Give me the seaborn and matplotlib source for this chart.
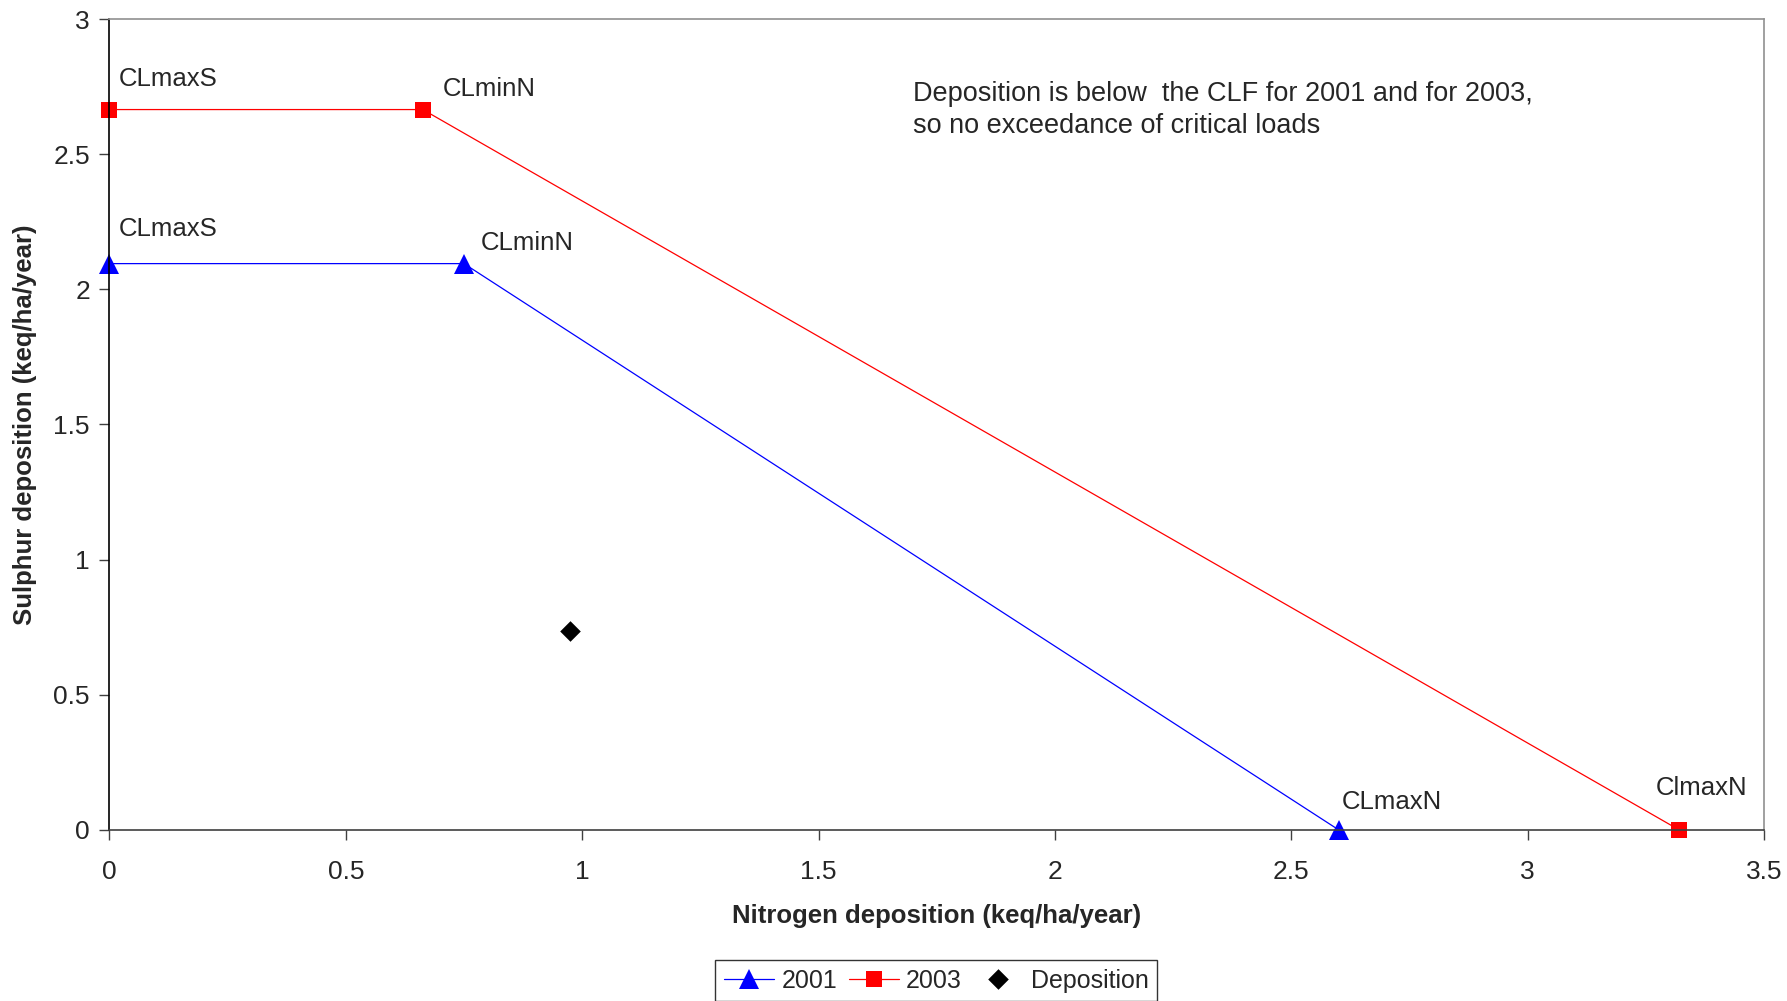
import matplotlib
matplotlib.use("Agg")
import matplotlib.pyplot as plt
import seaborn as sns
import pandas as pd

# critical load function points (N, S)
n_2001 = [0.0, 0.75, 2.60]
s_2001 = [2.095, 2.095, 0.0]
n_2003 = [0.0, 0.663, 3.32]
s_2003 = [2.665, 2.665, 0.0]
dep_n = [0.975]
dep_s = [0.737]

labels_2001 = ["CLmaxS", "CLminN", "CLmaxN"]
labels_2003 = ["CLmaxS", "CLminN", "ClmaxN"]
offsets_2001 = [(7, 25), (12, 15), (2, 20)]
offsets_2003 = [(7, 22), (14, 15), (-17, 30)]

note = "Deposition is below  the CLF for 2001 and for 2003,\nso no exceedance of critical loads"


def main():
    sns.set_style("white")
    plt.rcParams["font.family"] = ["Liberation Sans", "DejaVu Sans"]

    fig = plt.figure(figsize=(17.87, 10.01), dpi=100)
    ax = fig.add_axes([0.0612, 0.171, 0.926, 0.81])

    df1 = pd.DataFrame({"N": n_2001, "S": s_2001})
    df3 = pd.DataFrame({"N": n_2003, "S": s_2003})
    dfd = pd.DataFrame({"N": dep_n, "S": dep_s})

    sns.lineplot(data=df1, x="N", y="S", sort=False, estimator=None, ax=ax,
                 color="blue", lw=0.9, marker="^", markersize=14,
                 markeredgewidth=0, label="2001", clip_on=False)
    sns.lineplot(data=df3, x="N", y="S", sort=False, estimator=None, ax=ax,
                 color="red", lw=0.9, marker="s", markersize=12,
                 markeredgewidth=0, label="2003", clip_on=False)
    sns.scatterplot(data=dfd, x="N", y="S", ax=ax, color="black", marker="D",
                    s=110, linewidth=0, label="Deposition")

    for x, y, t, off in zip(n_2001, s_2001, labels_2001, offsets_2001):
        ax.annotate(t, (x, y), xytext=off, textcoords="offset points",
                    fontsize=18.5, ha="left", va="center")
    for x, y, t, off in zip(n_2003, s_2003, labels_2003, offsets_2003):
        ax.annotate(t, (x, y), xytext=off, textcoords="offset points",
                    fontsize=18.5, ha="left", va="center")

    ax.text(1.70, 2.665, note, fontsize=19.5, ha="left", va="center",
            linespacing=1.3)

    ax.set_xlim(0, 3.5)
    ax.set_ylim(0, 3)
    ax.set_xticks([0, 0.5, 1, 1.5, 2, 2.5, 3, 3.5])
    ax.set_xticklabels(["0", "0.5", "1", "1.5", "2", "2.5", "3", "3.5"])
    ax.set_yticks([0, 0.5, 1, 1.5, 2, 2.5, 3])
    ax.set_yticklabels(["0", "0.5", "1", "1.5", "2", "2.5", "3"])
    ax.tick_params(axis="both", labelsize=19, direction="out", length=7,
                   width=1, color="#404040", left=True, bottom=True, pad=7)
    ax.tick_params(axis="x", pad=15)

    ax.set_xlabel("Nitrogen deposition (keq/ha/year)", fontsize=18.5,
                  fontweight="bold", labelpad=14)
    ax.set_ylabel("Sulphur deposition (keq/ha/year)", fontsize=18.5,
                  fontweight="bold", labelpad=12)

    for side in ["top", "right"]:
        ax.spines[side].set_color("#909090")
        ax.spines[side].set_linewidth(1.2)
    ax.spines["left"].set_color("black")
    ax.spines["bottom"].set_color("#404040")
    ax.spines["left"].set_linewidth(1.2)
    ax.spines["bottom"].set_linewidth(1.2)

    handles, labs = ax.get_legend_handles_labels()
    ax.legend_.remove()
    leg = fig.legend(handles, labs, loc="upper center",
                     bbox_to_anchor=(0.524, 0.041), ncol=3, fontsize=18,
                     frameon=True, fancybox=False, edgecolor="black",
                     handlelength=2.0, handletextpad=0.3, columnspacing=0.45,
                     borderpad=0.35, borderaxespad=0, scatteryoffsets=[0.5])
    leg.get_frame().set_linewidth(1.0)

    fig.savefig("out.png", dpi=100)


if __name__ == "__main__":
    main()
